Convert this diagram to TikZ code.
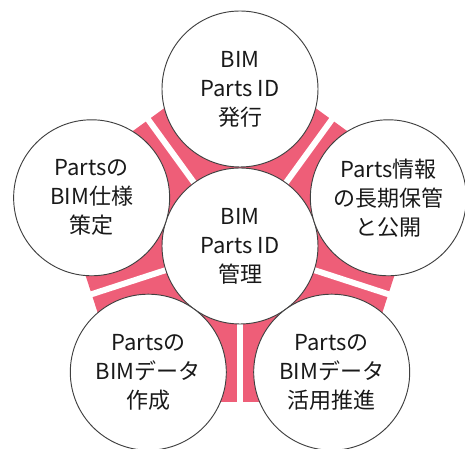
\documentclass[tikz,border=0pt]{standalone}
\usepackage{fontspec}
\newfontfamily\jpfont{Noto Sans CJK JP}
\definecolor{bandpink}{RGB}{238,94,120}
\tikzset{bubble/.style={circle,draw=black!75,line width=0.7pt,fill=white,minimum size=117pt,inner sep=0pt,align=center,font=\jpfont\fontsize{16.5}{21.8}\selectfont,text=black!90}}
\begin{document}
\begin{tikzpicture}[x=0.75pt,y=0.75pt]
		\useasboundingbox (0,0) rectangle (465,449);
		\clip (0,0) rectangle (465,449);
		\begin{scope}[shift={(240,203)}]
			% pink band and white gaps
			\fill[bandpink] (90:192.8)--(162:192.8)--(234:192.8)--(306:192.8)--(18:192.8)--cycle;
			\coordinate (mid) at (0,0);
			\foreach \a/\n in {54/a,126/b,198/c,270/d,342/e}
			{\coordinate (gap\n) at (\a:180);
			\draw[white,line width=4.5pt] (mid)--(gap\n);}
			% circles
			\node[bubble] (hub) at (mid) {BIM\\Parts ID\\管理};
			\node[bubble] (issue) at (90:157) {BIM\\Parts ID\\発行};
			\node[bubble] (spec) at (162:156) {Partsの\\BIM仕様\\策定};
			\node[bubble] (keep) at (18:156) {Parts情報\\の長期保管\\と公開};
			\node[bubble] (make) at (234:156) {Partsの\\BIMデータ\\作成};
			\node[bubble] (use) at (306:156) {Partsの\\BIMデータ\\活用推進};
		\end{scope}
		\end{tikzpicture}
\end{document}
